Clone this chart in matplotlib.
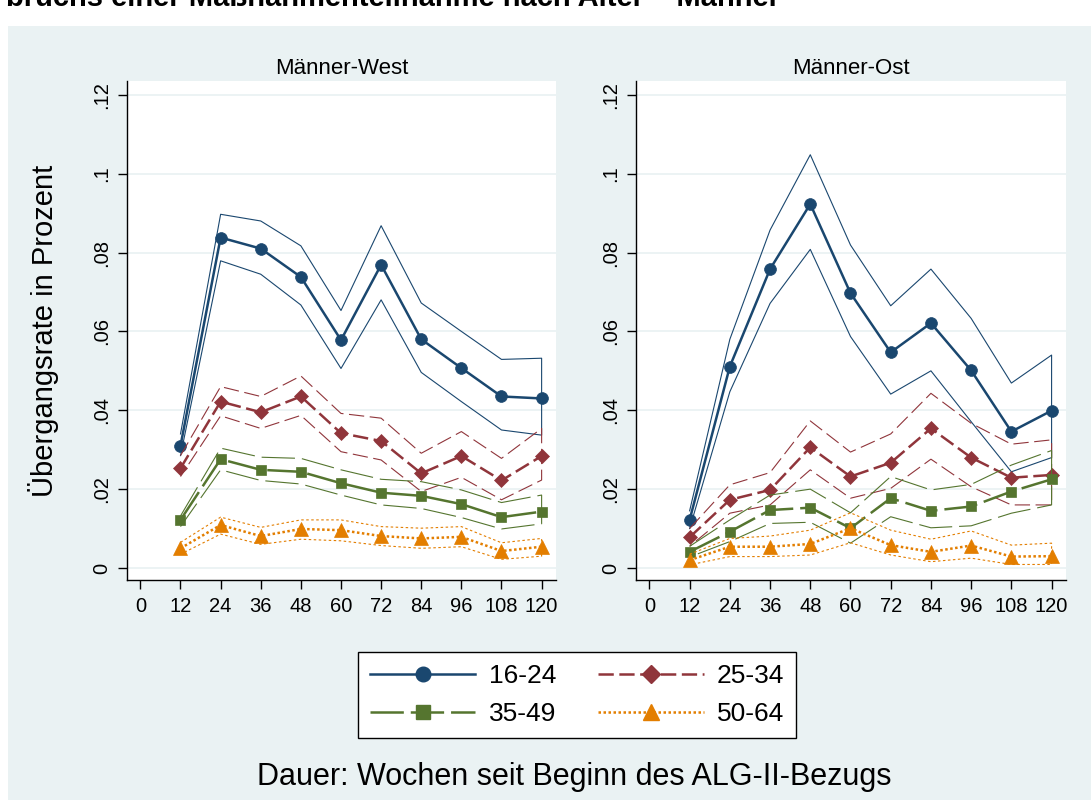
import matplotlib.pyplot as plt
from matplotlib.patches import Rectangle
from matplotlib.lines import Line2D

# Wochen seit Beginn des ALG-II-Bezugs
weeks = [12, 24, 36, 48, 60, 72, 84, 96, 108, 120]
xticks = [0, 12, 24, 36, 48, 60, 72, 84, 96, 108, 120]
yticks = [0, .02, .04, .06, .08, .1, .12]
ytick_labels = ['0', '.02', '.04', '.06', '.08', '.1', '.12']
groups = ['16-24', '25-34', '35-49', '50-64']
panels = ['Männer-West', 'Männer-Ost']

# Männer-West: Schätzung, untere und obere Grenze
west_1624 = [.0310, .0838, .0810, .0738, .0578, .0769, .0580, .0507, .0435, .0430]
west_1624_lo = [.0285, .0779, .0745, .0667, .0506, .0680, .0496, .0422, .0350, .0337]
west_1624_hi = [.0340, .0897, .0880, .0817, .0653, .0868, .0672, .0600, .0529, .0532]
west_2534 = [.0253, .0422, .0395, .0435, .0342, .0322, .0240, .0284, .0222, .0284]
west_2534_lo = [.0232, .0386, .0354, .0387, .0295, .0274, .0194, .0230, .0173, .0223]
west_2534_hi = [.0285, .0460, .0435, .0487, .0392, .0380, .0291, .0346, .0278, .0354]
west_3549 = [.0122, .0276, .0249, .0244, .0215, .0191, .0183, .0162, .0129, .0143]
west_3549_lo = [.0105, .0249, .0222, .0213, .0185, .0160, .0151, .0128, .0099, .0112]
west_3549_hi = [.0132, .0304, .0281, .0278, .0249, .0225, .0219, .0198, .0166, .0185]
west_5064 = [.0050, .0109, .0081, .0099, .0096, .0081, .0075, .0079, .0043, .0054]
west_5064_lo = [.0035, .0086, .0060, .0073, .0069, .0057, .0050, .0054, .0022, .0030]
west_5064_hi = [.0065, .0129, .0103, .0122, .0122, .0105, .0101, .0105, .0064, .0075]

# Männer-Ost
ost_1624 = [.0122, .0511, .0758, .0923, .0697, .0547, .0621, .0501, .0346, .0399]
ost_1624_lo = [.0100, .0447, .0671, .0808, .0587, .0441, .0500, .0371, .0244, .0280]
ost_1624_hi = [.0145, .0580, .0857, .1048, .0819, .0665, .0758, .0633, .0469, .0540]
ost_2534 = [.0078, .0173, .0198, .0306, .0232, .0267, .0354, .0280, .0229, .0236]
ost_2534_lo = [.0055, .0139, .0160, .0249, .0177, .0202, .0276, .0206, .0160, .0160]
ost_2534_hi = [.0100, .0211, .0242, .0373, .0294, .0340, .0443, .0367, .0314, .0325]
ost_3549 = [.0041, .0092, .0147, .0153, .0101, .0177, .0145, .0156, .0194, .0225]
ost_3549_lo = [.0028, .0067, .0113, .0116, .0063, .0130, .0102, .0107, .0139, .0160]
ost_3549_hi = [.0055, .0122, .0185, .0200, .0140, .0232, .0198, .0212, .0261, .0298]
ost_5064 = [.0020, .0054, .0054, .0061, .0101, .0058, .0041, .0057, .0029, .0030]
ost_5064_lo = [.0008, .0029, .0029, .0033, .0064, .0033, .0016, .0025, .0009, .0009]
ost_5064_hi = [.0035, .0075, .0081, .0096, .0140, .0096, .0073, .0094, .0058, .0063]

west = [(west_1624, west_1624_lo, west_1624_hi), (west_2534, west_2534_lo, west_2534_hi),
        (west_3549, west_3549_lo, west_3549_hi), (west_5064, west_5064_lo, west_5064_hi)]
ost = [(ost_1624, ost_1624_lo, ost_1624_hi), (ost_2534, ost_2534_lo, ost_2534_hi),
       (ost_3549, ost_3549_lo, ost_3549_hi), (ost_5064, ost_5064_lo, ost_5064_hi)]

# stata s2color look
colors = ['#1a476f', '#90353b', '#55752f', '#e37e00']
markers = ['o', 'D', 's', '^']
msizes = [8.5, 7.4, 7.8, 9.5]
dashes_pt = [None, (11, 4), (24, 5), (1.8, 1.8)]  # in points
bg = '#eaf2f3'

plt.rcParams['font.family'] = ['Liberation Sans', 'DejaVu Sans']


def lstyle(i, lw):
    if dashes_pt[i] is None:
        return '-'
    return (0, tuple(d / lw for d in dashes_pt[i]))


fig = plt.figure(figsize=(10.91, 8.0), dpi=100)
fig.patch.set_facecolor('white')
fig.patches.append(Rectangle((8 / 1091, 0), 1, 1 - 26 / 800, transform=fig.transFigure,
                             facecolor=bg, edgecolor='none', zorder=-10))
fig.text(6 / 1091, 1 - 5.5 / 800, 'bruchs einer Maßnahmenteilnahme nach Alter – Männer',
         fontsize=21, fontweight='bold', ha='left', va='baseline')

ax_w = fig.add_axes([127 / 1091, 1 - 580 / 800, 429 / 1091, 499 / 800])
ax_o = fig.add_axes([636 / 1091, 1 - 580 / 800, 430 / 1091, 499 / 800])

main_lw = 1.8
ci_lw = 0.8
for ax, data, title in [(ax_w, west, panels[0]), (ax_o, ost, panels[1])]:
    ax.set_facecolor('white')
    for i, (est, lo, hi) in enumerate(data):
        # CI as one path: obere Grenze hin, untere zurück
        ax.plot(weeks + weeks[::-1], hi + lo[::-1], color=colors[i], lw=ci_lw,
                linestyle=lstyle(i, ci_lw), zorder=2 + i)
        ax.plot(weeks, est, color=colors[i], lw=main_lw, linestyle=lstyle(i, main_lw),
                marker=markers[i], markersize=msizes[i], markeredgecolor=colors[i],
                markeredgewidth=0.5, zorder=3 + i, label=groups[i])
    ax.set_xlim(-4, 124.3)
    ax.set_ylim(-0.00304, 0.1235)
    ax.set_xticks(xticks)
    ax.set_yticks(yticks)
    ax.set_yticklabels(ytick_labels, rotation=90, va='center')
    ax.tick_params(axis='both', direction='out', length=6.5, width=1, labelsize=14.5, color='black')
    ax.tick_params(axis='x', pad=6)
    ax.tick_params(axis='y', pad=5)
    ax.grid(axis='y', color=bg, lw=1.3)
    ax.set_axisbelow(True)
    for s in ['top', 'right']:
        ax.spines[s].set_visible(False)
    for s in ['left', 'bottom']:
        ax.spines[s].set_linewidth(1)
    ax.set_title(title, fontsize=16, pad=5)

fig.text(44 / 1091, 1 - 331 / 800, 'Übergangsrate in Prozent', rotation=90,
         fontsize=21, ha='center', va='center')
fig.text(574 / 1091, 1 - 785 / 800, 'Dauer: Wochen seit Beginn des ALG-II-Bezugs',
         fontsize=22, ha='center', va='baseline')

leg_handles = [Line2D([], [], color=colors[i], lw=main_lw, linestyle=lstyle(i, main_lw),
                      marker=markers[i], markersize=msizes[i] + 2, markeredgecolor=colors[i])
               for i in range(4)]
# order for two columns: 16-24, 35-49 | 25-34, 50-64
order = [0, 2, 1, 3]
leg = fig.legend([leg_handles[i] for i in order], [groups[i] for i in order], ncol=2,
                 loc='center', bbox_to_anchor=(577 / 1091, 1 - 695 / 800), fontsize=19,
                 frameon=True, fancybox=False, handlelength=4.0, handletextpad=0.5,
                 columnspacing=1.6, labelspacing=0.55, borderpad=0.45, numpoints=1,
                 framealpha=1)
leg.get_frame().set_facecolor('white')
leg.get_frame().set_edgecolor('black')
leg.get_frame().set_linewidth(1)

fig.savefig('out.png', dpi=100, facecolor=fig.get_facecolor())
